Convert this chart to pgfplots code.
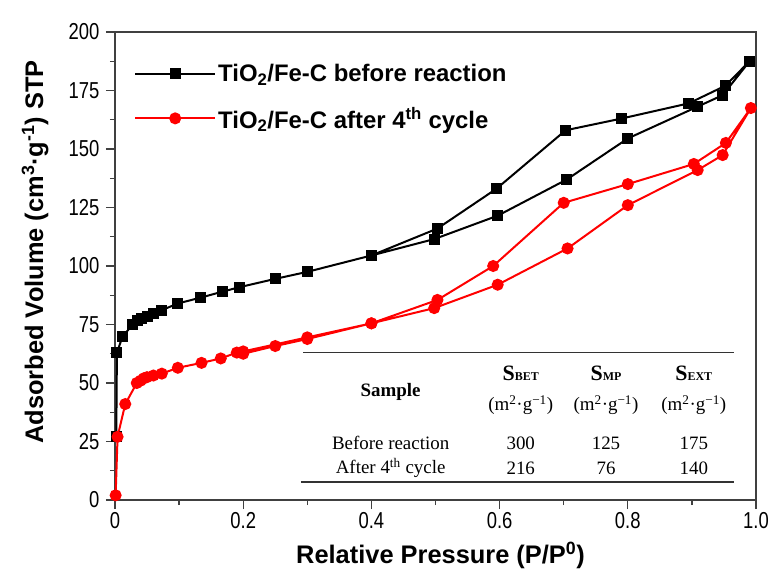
\documentclass[border=0pt]{standalone}
\usepackage{pgfplots}
\pgfplotsset{compat=1.18}
\usepackage{fontspec}
\setmainfont{Liberation Sans}
\newfontfamily\tabfont{Liberation Serif}
\newcommand\tl[1]{\scalebox{1}[1.25]{#1}}
\newcommand\Sx[1]{{\fontsize{22}{22}\selectfont S}{\fontsize{12}{12}\selectfont #1}}

\begin{document}
\begin{tikzpicture}
\begin{axis}[
  scale only axis, width=641bp, height=468bp,
  xmin=0, xmax=1, ymin=0, ymax=200,
  xtick={0,0.2,0.4,0.6,0.8,1},
  xticklabels={\tl{0},\tl{0.2},\tl{0.4},\tl{0.6},\tl{0.8},\tl{1.0}},
  ytick={0,25,50,75,100,125,150,175,200},
  yticklabels={\tl{0},\tl{25},\tl{50},\tl{75},\tl{100},\tl{125},\tl{150},\tl{175},\tl{200}},
  minor x tick num=1, minor y tick num=1,
  tick align=outside, xtick pos=bottom, ytick pos=left,
  major tick length=9bp, minor tick length=5bp,
  axis line style={line width=1.4bp, black!75},
  tick style={line width=1.2bp, black!75},
  tick label style={font=\fontsize{18.5}{18.5}\selectfont},
  yticklabel style={xshift=-3bp},
  /pgf/number format/assume math mode=true,
  xlabel={Relative Pressure (P/P\textsuperscript{0})},
  ylabel={Adsorbed Volume (cm\textsuperscript{3}·g\textsuperscript{-1}) STP},
  every axis x label/.style={at={([xshift=5bp,yshift=-55bp]rel axis cs:0.5,0)}, anchor=center,
    font=\fontsize{25.5}{25.5}\selectfont\bfseries},
  every axis y label/.style={at={([xshift=-80bp,yshift=14bp]rel axis cs:0,0.5)}, rotate=90, anchor=center,
    font=\fontsize{25.5}{25.5}\selectfont\bfseries},
  legend style={at={(rel axis cs:0.025,0.94)}, anchor=north west, draw=none, fill=none,
    font=\fontsize{24}{24}\selectfont\bfseries, row sep=20bp},
  legend cell align=left,
  legend image code/.code={\draw[#1,mark repeat=2,mark phase=2] plot coordinates {(0bp,0bp) (40bp,0bp) (80bp,0bp)};},
]
\addplot[black, line width=2bp, mark=square*, mark size=4.5bp] coordinates {
(0.002,27) (0.003,63) (0.012,70) (0.028,75) (0.035,76.5) (0.042,77.5) (0.05,78.5)
(0.06,79.5) (0.072,81) (0.098,84) (0.134,86.5) (0.167,89) (0.195,91) (0.25,94.5)
(0.3,97.5) (0.4,104.5) (0.498,111.5) (0.597,121.5) (0.705,137) (0.80,154.5)
(0.908,168) (0.948,173) (0.99,187.5)
(0.952,177) (0.895,169.5) (0.79,163) (0.703,158) (0.595,133) (0.503,116) (0.4,104.5)
};
\addlegendentry{TiO\textsubscript{2}/Fe-C before reaction}
\addplot[red, line width=2bp, mark=*, mark size=5bp] coordinates {
(0.001,2) (0.004,27) (0.016,41) (0.034,50) (0.04,51) (0.045,52) (0.05,52.5)
(0.06,53.2) (0.073,54) (0.098,56.5) (0.135,58.6) (0.165,60.5) (0.19,63) (0.2,62.5)
(0.25,65.8) (0.3,68.8) (0.4,75.5) (0.498,82) (0.597,92) (0.706,107.5) (0.80,126)
(0.909,141) (0.948,147.4) (0.992,167.5)
(0.953,152.6) (0.903,143.6) (0.80,135) (0.70,127) (0.59,100) (0.503,85.5)
(0.4,75.5) (0.3,69.5) (0.2,63.5)
};
\addlegendentry{TiO\textsubscript{2}/Fe-C after 4\textsuperscript{th} cycle}

\draw[line width=1.2bp, black!80] (axis cs:0.294,63.2) -- (axis cs:0.966,63.2);
\draw[line width=1.2bp, black!80] (axis cs:0.290,7.7) -- (axis cs:0.966,7.7);
\begin{scope}[every node/.style={font=\tabfont\fontsize{19}{19}\selectfont, anchor=center}]
\node at (axis cs:0.43,46.2) {\bfseries Sample};
\node at (axis cs:0.633,54.3) {\bfseries\Sx{BET}};
\node at (axis cs:0.766,54.3) {\bfseries\Sx{MP}};
\node at (axis cs:0.903,54.3) {\bfseries\Sx{EXT}};
\node at (axis cs:0.633,40.6) {(m\textsuperscript{2}·g\textsuperscript{−1})};
\node at (axis cs:0.766,40.6) {(m\textsuperscript{2}·g\textsuperscript{−1})};
\node at (axis cs:0.903,40.6) {(m\textsuperscript{2}·g\textsuperscript{−1})};
\node at (axis cs:0.43,24.4) {Before reaction};
\node at (axis cs:0.633,24.4) {300};
\node at (axis cs:0.766,24.4) {125};
\node at (axis cs:0.903,24.4) {175};
\node at (axis cs:0.43,13.7) {After 4\textsuperscript{th} cycle};
\node at (axis cs:0.633,13.7) {216};
\node at (axis cs:0.766,13.7) {76};
\node at (axis cs:0.903,13.7) {140};
\end{scope}
\end{axis}
\path ([shift={(-115bp,-75bp)}]current axis.south west) rectangle ([shift={(17bp,32bp)}]current axis.north east);
\end{tikzpicture}
\end{document}
